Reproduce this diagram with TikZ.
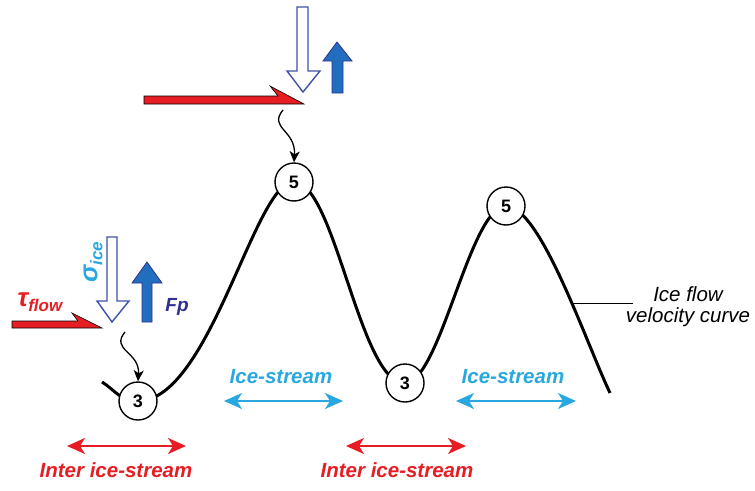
\documentclass[tikz,border=0pt]{standalone}
\usepackage{fontspec}
\setmainfont{Liberation Sans}
\usepackage{xcolor}
\usetikzlibrary{positioning,arrows.meta,backgrounds}

\definecolor{flowred}{RGB}{230,30,36}
\definecolor{streamblue}{RGB}{41,168,224}
\definecolor{fpblue}{RGB}{46,49,146}
\definecolor{sigmablue}{RGB}{62,82,165}
\definecolor{liftfill}{RGB}{34,110,190}

\begin{document}
\begin{tikzpicture}[x=1pt, y=-1pt,
    site/.style={draw, circle, fill=white, line width=1.4pt, minimum size=38pt, inner sep=0pt, font=\fontsize{18}{18}\selectfont\bfseries},
    zone/.style={font=\fontsize{20.5}{24}\selectfont\bfseries\itshape},
    span/.style={{Stealth[length=18pt,width=16pt,inset=5pt]}-{Stealth[length=18pt,width=16pt,inset=5pt]}, line width=2pt},
    hint/.style={-{Stealth[length=11pt,width=10pt,inset=3pt]}, line width=1.3pt},
    shear/.style={fill=flowred, draw=black, line width=0.6pt},
    load/.style={fill=white, draw=sigmablue, line width=1.4pt},
    lift/.style={fill=liftfill, draw=fpblue, line width=0.8pt}]
    \useasboundingbox (0,0) rectangle (755,490);

    % measurement sites on the velocity curve
    \node[site] (c3a) at (138,401) {3};
    \node[site] (c5a) at (294,182) {5};
    \node[site] (c3b) at (405,383) {3};
    \node[site] (c5b) at (506,206) {5};

    \begin{scope}[on background layer]
        \draw[line width=3pt] (102,382) .. controls (115,390) and (120,401) .. (c3a.center)
            .. controls (210,401) and (255,180) .. (c5a.center)
            .. controls (335,182) and (360,385) .. (c3b.center)
            .. controls (440,383) and (470,206) .. (c5b.center)
            .. controls (540,206) and (585,340) .. (610,393);
    \end{scope}

    % curve label
    \coordinate (vc) at (573,303);
    \node[font=\fontsize{20.5}{21}\selectfont\itshape, align=center] (velo) at (688,307) {Ice flow\\velocity curve};
    \draw[line width=1pt] (vc) -- ++(60,0);

    % forces at the inter ice-stream site
    \draw[shear] (12,321) -- (78,321) -- (72,313) -- (102,328) -- (12,328) -- cycle;
    \draw[load] (107,237) -- (117,237) -- (117,301) -- (129,301) -- (112,322) -- (97,301) -- (107,301) -- cycle;
    \draw[lift] (142,322) -- (152,322) -- (152,283) -- (162,283) -- (147,262) -- (132,283) -- (142,283) -- cycle;
    \node[text=flowred, font=\bfseries\itshape] (tau) at (40,302) {{\fontsize{26}{26}\selectfont τ}\raisebox{-5pt}{\fontsize{17}{17}\selectfont flow}};
    \node[text=streamblue, font=\bfseries\itshape, rotate=90] (sigma) at (93,262) {{\fontsize{26}{26}\selectfont σ}\raisebox{-5pt}{\fontsize{17}{17}\selectfont ice}};
    \node[text=fpblue, font=\fontsize{19}{19}\selectfont\bfseries\itshape] (fp) at (177,307) {Fp};

    % forces at the ice-stream site
    \draw[shear] (144,96) -- (278,96) -- (270,86) -- (304,104) -- (144,104) -- cycle;
    \draw[load] (297,7) -- (308,7) -- (308,71) -- (320,71) -- (303,92) -- (287,71) -- (297,71) -- cycle;
    \draw[lift] (332,93) -- (343,93) -- (343,61) -- (352,61) -- (337,42) -- (323,61) -- (332,61) -- cycle;

    \coordinate (w1) at (125,332);
    \coordinate (w2) at (283,110);
    \draw[hint] (w1) .. controls (110,350) and (140,352) .. (c3a.north);
    \draw[hint] (w2) .. controls (268,128) and (296,130) .. (c5a.north);

    % zones
    \node[zone, text=streamblue] (is1) at (281,377) {Ice-stream};
    \node[zone, text=streamblue] (is2) at (513,377) {Ice-stream};
    \node[zone, text=flowred] (ii1) at (116,470) {Inter ice-stream};
    \node[zone, text=flowred] (ii2) at (397,470) {Inter ice-stream};

    \coordinate (is1l) at (224,401);
    \coordinate (is1r) at (343,401);
    \coordinate (is2l) at (456,401);
    \coordinate (is2r) at (576,401);
    \coordinate (ii1l) at (67,446);
    \coordinate (ii1r) at (186,446);
    \coordinate (ii2l) at (346,446);
    \coordinate (ii2r) at (466,446);
    \draw[span, streamblue] (is1l) -- (is1r);
    \draw[span, streamblue] (is2l) -- (is2r);
    \draw[span, flowred] (ii1l) -- (ii1r);
    \draw[span, flowred] (ii2l) -- (ii2r);
\end{tikzpicture}
\end{document}
